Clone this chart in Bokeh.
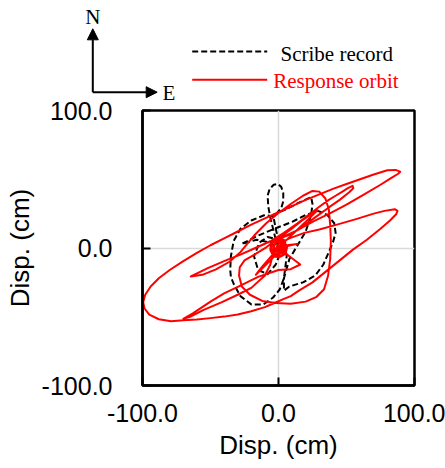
from bokeh.plotting import figure
from bokeh.models import FixedTicker, NumeralTickFormatter, Arrow, NormalHead, Label, Range1d
from bokeh.layouts import column
from bokeh.embed import file_html
from bokeh.resources import INLINE

# Scribe record (black dashed), cm
scribe_x = [0, -2, -4, -6, -7.5, -8, -6.5, -3.5, -0.5, 2, 3.5, 3.5, 2, -1, -4, -10, -20, -28, -33, -35, -35.5, -35,
            -33, -28, -20, -11, -4, 1, 4, 5, 6, 5, 0, -8, -14, -18, -15, -8, -2, 2, -6, -16, -27, -15, -3, 10,
            20, 29, 36, 41, 42, 40, 37, 33, 27, 18, 8, 4, 4, 8, 14, 20, 24, 25, 24, 15, 5, -4, -2, 0]
scribe_y = [0, 6, 14, 22, 30, 38, 43, 46, 46.5, 44.5, 40, 34, 29, 25.5, 23, 24, 20, 14, 5, -6, -16, -21,
            -26, -35, -41, -41, -36, -30, -22, -14, -6, 0, 6, 8, 4, -6, -16, -19, -12, -2, 4, 6, 3, 9, 14, 19,
            24, 27, 24, 18, 11, 4, -3, -12, -20, -25, -28, -31, -22, -8, 2, 12, 24, 32, 37, 33, 28, 24, 14, 5]

# Response orbit (red), cm
orbit_x = [0, 2, -1, -3.5, -2.5, 1.5, 4, 3.5, 0, -4.5, -6, -3.5, 1.5, 5.5, 6.5, 14, 6,
           0, -8, -16.7, -12, -4, 5, 14, 22, 28.7, 26.5, 18, 9, 0, -9, -18,
           -25, -28.5, -29, -27, -21, -12, -2, 9, 20, 28, 33.5, 36.5, 38, 38.5, 38, 37, 34.5, 30, 25, 18, 9, 0, -9, -17,
           -23, -28,
           -36, -46, -56, -64.5,
           -58, -52, -40, -28, -17, -6, 4, 14, 22, 30, 37, 42, 47, 51, 54.5, 55, 52,
           45, 37, 28, 18, 9, 1.7,
           12, 26, 38.5, 50, 63, 75, 83, 88, 89.5,
           86, 80, 70, 60, 50, 40, 30, 20, 10, 0, -10, -20, -30, -40, -50, -60, -70, -80, -88, -94, -98, -99.5, -98.5,
           -95, -88, -79, -70,
           -60, -50, -40, -30, -20, -10, -3, 4, 9, 15, 25, 35, 45, 55, 65, 75, 82, 86.5, 87.5, 85.5,
           78, 70, 57, 43, 30, 19, 8, 0,
           -4, -6, -10, -20, -30, -42, -55, -65, -70, -63, -50, -40, -28, -15, 0, 9, 16,
           8, 4, 5.5, 4.5, 1, -3, -5.5, -6, -4, 0, 4, 6, 5, 2, -2, -4.5, -5, -3, 0, 3, 4, 2.5, -1, -3, -3.5, -1.5, 1, 2.5, 1.5, -0.5, 0]
orbit_y = [0, 3, 4.5, 1.5, -2.5, -3.5, -0.5, 3.5, 6, 4, -0.5, -5, -6, -3, 1.5, 3, 2,
           -3, -11, -19.5, -13.5, -4.5, 5, 13.5, 21, 27.5, 26.5, 20.5, 13.5, 7, 0.5, -5,
           -9, -14, -20, -28, -34, -38.5, -40, -40.5, -39, -35.5, -30, -20, -8, 5, 17, 28, 36, 41, 41.5, 38, 32, 25.5, 18, 10,
           3, -3,
           -10, -15.5, -19.5, -20.7,
           -17.5, -14.6, -9.5, -4.8, 0, 4.9, 11, 18, 24, 30, 35, 38, 41, 43.5, 45.2, 43.5, 40.5,
           35, 29.5, 23, 16, 10, 7.3,
           12, 19.5, 25.6, 31.5, 39, 46, 51, 54, 55.5,
           56.8, 56.5, 53.5, 50, 46.5, 43, 39, 35, 30.5, 26, 21.5, 17, 12, 7, 2, -3.5, -9.5, -16, -22, -28, -34, -39.5, -44,
           -48.5, -51.8, -53.3, -52.5,
           -52, -51, -49.9, -48.3, -46, -43, -40, -37, -35, -31, -25, -17, -9, -1, 6, 14, 20, 24.5, 27, 28.2,
           27, 25, 21, 17, 13.5, 11, 7, 3,
           -4, -12, -20, -29, -34, -39.5, -45, -50, -51.5, -47.5, -39, -33, -27.4, -21, -16, -15.4, -12,
           -6, -3, 1.5, 5.5, 7.5, 6.5, 3, -1.5, -5.5, -7, -5, -1, 3, 6, 6, 3.5, -0.5, -4, -5, -3, 0.5, 3.5, 4.5, 2.5, -1, -2.5, -1.5, 1, 2, 0.5, 0]

ticks = [-100, 0, 100]
axis_title = "Disp. (cm)"
legend_labels = ["Scribe record", "Response orbit"]

W = 445
T = 106          # height of the top strip (compass + legend)
OVERLAP = 12     # main chart's transparent top border slides under the strip

# ---- top strip: compass and legend (coordinates in page pixels) ----
top = figure(width=W, height=T, x_range=Range1d(0, W), y_range=Range1d(T, 0),
             x_axis_location=None, y_axis_location=None, min_border=0,
             output_backend="svg", toolbar_location=None)
top.frame_align = False
top.outline_line_color = None
top.grid.visible = False
top.background_fill_color = "white"
top.border_fill_color = "white"

top.add_layout(Arrow(end=NormalHead(size=11, fill_color="black", line_color="black", line_width=1),
                     x_start=92.3, y_start=91.7, x_end=92.3, y_end=28.3, line_color="black", line_width=2))
top.add_layout(Arrow(end=NormalHead(size=11, fill_color="black", line_color="black", line_width=1),
                     x_start=92.3, y_start=91.7, x_end=156.7, y_end=91.7, line_color="black", line_width=2))
top.add_layout(Label(x=92.3, y=16, text="N", text_font="Liberation Serif", text_font_size="21px",
                     text_align="center", text_baseline="middle", text_color="black"))
top.add_layout(Label(x=168.3, y=92, text="E", text_font="Liberation Serif", text_font_size="21px",
                     text_align="center", text_baseline="middle", text_color="black"))

top.line([191.7, 266.7], [51, 51], line_color="black", line_width=2, line_dash="6 3")
top.line([191.7, 266.7], [79.3, 79.3], line_color="#ff0000", line_width=2)
top.add_layout(Label(x=280, y=53, text=legend_labels[0], text_font="Liberation Serif", text_font_size="21px",
                     text_align="left", text_baseline="middle", text_color="black"))
top.add_layout(Label(x=272.7, y=80.5, text=legend_labels[1], text_font="Liberation Serif", text_font_size="21px",
                     text_align="left", text_baseline="middle", text_color="#ff0000"))

# ---- main chart ----
p = figure(frame_width=272, frame_height=275, x_range=(-100, 100), y_range=(-100, 100),
           min_border_left=142, min_border_top=110 - (T - OVERLAP), min_border_right=31, min_border_bottom=40,
           output_backend="svg", toolbar_location=None)
p.frame_align = False
p.styles = {"margin-top": f"-{OVERLAP}px"}
p.background_fill_color = "white"
p.border_fill_color = None
p.outline_line_color = "black"
p.outline_line_width = 2.5

for ax in (p.xaxis, p.yaxis):
    ax.ticker = FixedTicker(ticks=ticks)
    ax.formatter = NumeralTickFormatter(format="0.0")
    ax.major_label_text_font = "Liberation Sans"
    ax.major_label_text_font_size = "25px"
    ax.major_label_text_color = "black"
    ax.axis_label = axis_title
    ax.axis_label_text_font = "Liberation Sans"
    ax.axis_label_text_font_size = "26px"
    ax.axis_label_text_font_style = "normal"
    ax.axis_label_text_color = "black"
    ax.axis_line_color = "black"
    ax.axis_line_width = 2.5
    ax.major_tick_in = 8
    ax.major_tick_out = 0
    ax.major_tick_line_width = 2
    ax.major_tick_line_color = "black"
    ax.minor_tick_line_color = None
p.xaxis.major_label_standoff = 18
p.yaxis.major_label_standoff = 30
p.xaxis.axis_label_standoff = 5
p.yaxis.axis_label_standoff = 4

p.xgrid.ticker = FixedTicker(ticks=[0])
p.ygrid.ticker = FixedTicker(ticks=[0])
p.grid.grid_line_color = "#d9d9d9"
p.grid.grid_line_width = 1.5

p.line(scribe_x, scribe_y, line_color="black", line_width=2, line_dash="6 3", line_join="round")
p.line(orbit_x, orbit_y, line_color="#ff0000", line_width=2, line_join="round")

layout = column(top, p, spacing=0)
open("out.html", "w").write(file_html(layout, INLINE))
